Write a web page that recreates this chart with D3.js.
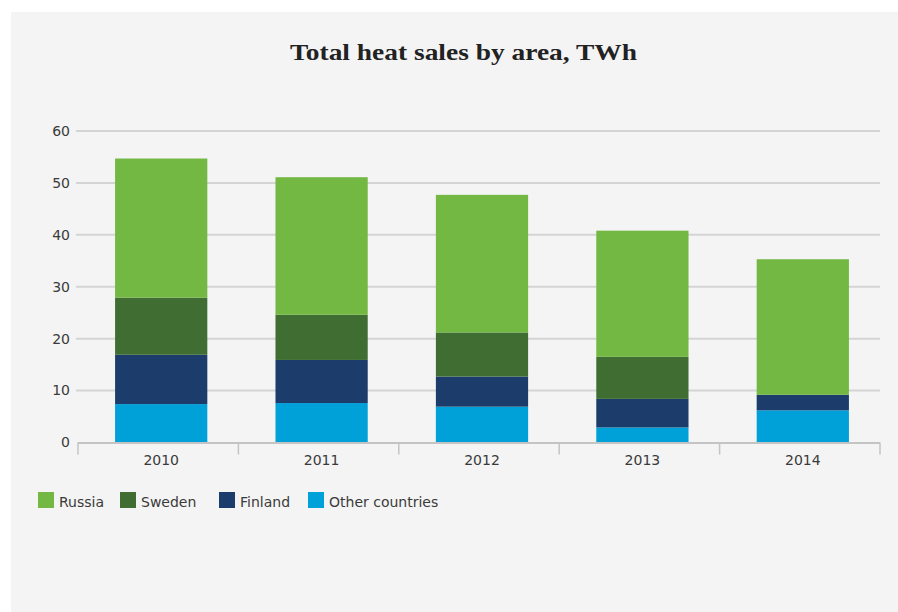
<!DOCTYPE html>
<html><head><meta charset="utf-8">
<script src="https://cdn.jsdelivr.net/npm/d3@7"></script>
<style>
html,body{margin:0;padding:0;background:#ffffff;}
svg{display:block;}
</style></head>
<body>
<svg id="chart" width="898" height="612"></svg>
<script>
const title = "Total heat sales by area, TWh";
const years = ["2010", "2011", "2012", "2013", "2014"];
const seriesNames = ["Other countries", "Finland", "Sweden", "Russia"];
const otherCountries = [7.4, 7.6, 6.9, 2.9, 6.2];
const finland = [9.5, 8.3, 5.8, 5.5, 3.0];
const sweden = [11.0, 8.7, 8.5, 8.1, 0];
const russia = [26.8, 26.5, 26.5, 24.3, 26.1];
const yTicks = [0, 10, 20, 30, 40, 50, 60];
const legendOrder = ["Russia", "Sweden", "Finland", "Other countries"];
const colors = {"Russia": "#73b843", "Sweden": "#406e32", "Finland": "#1c3c6c", "Other countries": "#00a0d8"};

(function () {
const rows = years.map((yr, i) => ({
  year: yr,
  "Other countries": otherCountries[i],
  "Finland": finland[i],
  "Sweden": sweden[i],
  "Russia": russia[i]
}));

const font = "'DejaVu Sans', Verdana, sans-serif";
const svg = d3.select("#chart");
svg.append("rect").attr("x", 11).attr("y", 12).attr("width", 898 - 11).attr("height", 612 - 12).attr("fill", "#f4f4f4");

const mLeft = 78, mRight = 880, mTop = 131, mBottom = 442.5;
const x = d3.scaleBand().domain(years).range([mLeft + 3, mRight + 3]).paddingInner(0.425).paddingOuter(0.2125);
const y = d3.scaleLinear().domain([0, 60]).range([mBottom, mTop]);

// gridlines
svg.append("g").selectAll("line").data(yTicks.filter(d => d > 0)).join("line")
  .attr("x1", 76).attr("x2", mRight).attr("y1", d => y(d)).attr("y2", d => y(d))
  .attr("stroke", "#d4d4d4").attr("stroke-width", 2);

// y labels
svg.append("g").selectAll("text").data(yTicks).join("text")
  .attr("x", 70).attr("y", d => y(d)).attr("dy", "0.35em")
  .attr("text-anchor", "end")
  .attr("font-family", font).attr("font-size", 14)
  .attr("fill", "#3a3a3a").text(d => d);

// stacked bars
const stack = d3.stack().keys(seriesNames)(rows);
svg.append("g").selectAll("g").data(stack).join("g")
  .attr("fill", d => colors[d.key])
  .selectAll("rect").data(d => d).join("rect")
  .attr("x", d => x(d.data.year)).attr("width", x.bandwidth())
  .attr("y", d => y(d[1])).attr("height", d => y(d[0]) - y(d[1]));

// x axis
const step = (mRight - mLeft) / years.length;
const ax = svg.append("g");
ax.append("line").attr("x1", mLeft).attr("x2", mRight).attr("y1", mBottom + 0.5).attr("y2", mBottom + 0.5)
  .attr("stroke", "#c4c4c4").attr("stroke-width", 2);
ax.selectAll("line.tick").data(d3.range(years.length + 1)).join("line").attr("class", "tick")
  .attr("x1", i => mLeft + i * step).attr("x2", i => mLeft + i * step)
  .attr("y1", mBottom).attr("y2", mBottom + 12)
  .attr("stroke", "#c4c4c4").attr("stroke-width", 1.5);
ax.selectAll("text").data(years).join("text")
  .attr("x", d => x(d) + x.bandwidth() / 2).attr("y", 465)
  .attr("text-anchor", "middle")
  .attr("font-family", font).attr("font-size", 14)
  .attr("fill", "#3a3a3a").text(d => d);

// title
svg.append("text").attr("x", 290).attr("y", 59.5)
  .attr("font-family", "'Liberation Serif', 'DejaVu Serif', serif").attr("font-weight", "bold")
  .attr("font-size", 24).attr("fill", "#222")
  .attr("textLength", 347).attr("lengthAdjust", "spacingAndGlyphs").text(title);

// legend
const legendX = [38, 120, 219, 308];
const lg = svg.append("g").selectAll("g").data(legendOrder).join("g")
  .attr("transform", (d, i) => `translate(${legendX[i]},492)`);
lg.append("rect").attr("width", 16).attr("height", 16).attr("fill", d => colors[d]);
lg.append("text").attr("x", 21).attr("y", 15)
  .attr("font-family", font).attr("font-size", 14)
  .attr("fill", "#3a3a3a").text(d => d);
})();
</script>
</body></html>
